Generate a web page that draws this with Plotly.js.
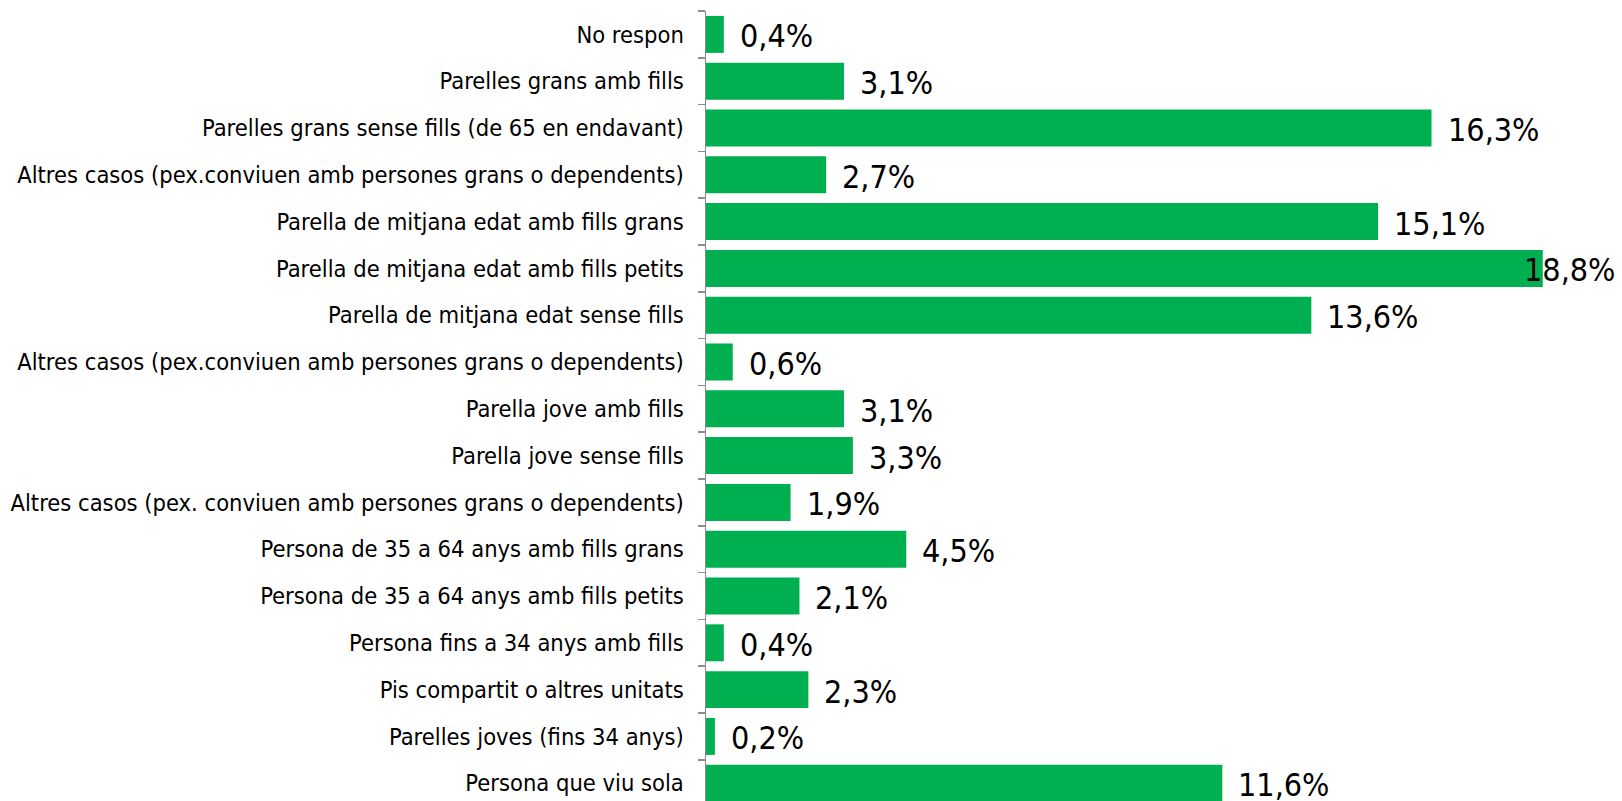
<!DOCTYPE html>
<html>
<head>
<meta charset="utf-8">
<script src="https://cdn.plot.ly/plotly-3.0.1.min.js"></script>
<style>html,body{margin:0;padding:0;background:#fff;overflow:hidden}</style>
</head>
<body>
<div id="chart" style="width:1622px;height:801px"></div>
<script>
// Categories, top to bottom
const categories = [
  "No respon",
  "Parelles grans amb fills",
  "Parelles grans sense fills (de 65 en endavant)",
  "Altres casos (pex.conviuen amb persones grans o dependents)",
  "Parella de mitjana edat amb fills grans",
  "Parella de mitjana edat amb fills petits",
  "Parella de mitjana edat sense fills",
  "Altres casos (pex.conviuen amb persones grans o dependents)",
  "Parella jove amb fills",
  "Parella jove sense fills",
  "Altres casos (pex. conviuen amb persones grans o dependents)",
  "Persona de 35 a 64 anys amb fills grans",
  "Persona de 35 a 64 anys amb fills petits",
  "Persona fins a 34 anys amb fills",
  "Pis compartit o altres unitats",
  "Parelles joves (fins 34 anys)",
  "Persona que viu sola"
];
const values = [0.4, 3.1, 16.3, 2.7, 15.1, 18.8, 13.6, 0.6, 3.1, 3.3, 1.9, 4.5, 2.1, 0.4, 2.3, 0.2, 11.6];

// make duplicate category names unique (invisible suffix)
const seen = {};
const catKeys = categories.map(c => {
  seen[c] = (seen[c] || 0) + 1;
  return seen[c] > 1 ? c + "\u200B".repeat(seen[c] - 1) : c;
});
const labels = values.map(v => v.toFixed(1).replace('.', ',') + '%');

const FONT = "Tahoma, 'DejaVu Sans Condensed', 'DejaVu Sans', sans-serif";
const xMax = 20.58;

const annotations = values.map((v, i) => {
  const overflow = v > 18;
  return overflow ? {
    x: 1, xref: 'paper', xanchor: 'right', xshift: -5,
    y: catKeys[i], yref: 'y', yshift: -2,
    text: labels[i], showarrow: false,
    font: {family: FONT, size: 32, color: '#000'}
  } : {
    x: v, xref: 'x', xanchor: 'left', xshift: 14,
    y: catKeys[i], yref: 'y', yshift: -2,
    text: labels[i], showarrow: false,
    font: {family: FONT, size: 32, color: '#000'}
  };
});

const trace = {
  type: 'bar', orientation: 'h',
  x: values, y: catKeys,
  marker: {color: '#00B050'},
  hoverinfo: 'none'
};

const layout = {
  width: 1622, height: 801,
  margin: {l: 706, r: 0, t: 11, b: 0, pad: 0},
  paper_bgcolor: '#fff', plot_bgcolor: '#fff',
  bargap: 0.21,
  showlegend: false,
  font: {family: FONT, size: 23.5, color: '#000'},
  xaxis: {range: [0, xMax], visible: false, showgrid: false, zeroline: false, fixedrange: true},
  yaxis: {
    type: 'category',
    categoryorder: 'array', categoryarray: catKeys,
    range: [16.38, -0.5],
    showline: true, linecolor: '#8C8C8C', linewidth: 1.5,
    ticks: 'outside', ticklen: 7, tickcolor: '#8C8C8C', tickwidth: 1.5,
    tickson: 'boundaries',
    ticklabelstandoff: 16,
    showgrid: false, zeroline: false,
    tickfont: {family: FONT, size: 23.5, color: '#000'}
  },
  annotations: annotations
};

Plotly.newPlot('chart', [trace], layout, {displayModeBar: false, staticPlot: true});
</script>
</body>
</html>
